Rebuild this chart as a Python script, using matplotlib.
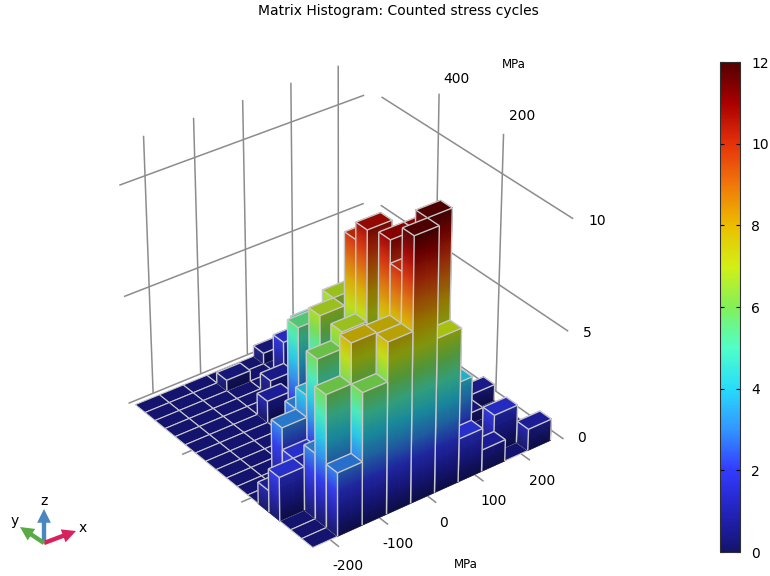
import numpy as np, matplotlib
matplotlib.use('Agg')
import matplotlib.pyplot as plt
from mpl_toolkits.mplot3d.art3d import Poly3DCollection, Line3DCollection
from matplotlib.colors import LinearSegmentedColormap, Normalize
from matplotlib.cm import ScalarMappable
from matplotlib.patches import FancyArrowPatch

x_edges = [-235+50*i for i in range(11)]
y_edges = [600*j/17 for j in range(18)]
x_ticks = [-200,-100,0,100,200]
y_ticks = [200,400]
z_ticks = [0,5,10]
bar_col = [1,2,3,4,5,6,7,9, 1,2,3,4,5,6,8, 1,4,5, 0,7,8, 1,2,3,4, 0,1,2,4,9, 2,3,8, 4,3,3,4,5,4,3,5]
bar_row = [0,0,0,0,0,0,0,0, 1,1,1,1,1,1,1, 2,2,2, 3,4,4, 4,4,4,4, 4,5,5,5,5, 6,6,6, 7,8,11,10,14,13,15,16]
bar_val = [2.9,6,7.75,11.85,7,2,1,1, 6,7.8,7.75,10,11.85,4,1.75, 3,11,11, 2,.5,.5, 2,6,6.75,10.75, 1,3,4,10,.75, 3,6.75,.5, 6.75,5.5,1,4.5,1.75,.75,.5,.5]
colors=[(0,(20,20,110)),(1,(35,35,190)),(2,(50,60,255)),(3,(50,150,255)),(4,(40,220,250)),(5,(80,255,200)),(6,(130,240,90)),(7,(210,240,20)),(8,(235,190,0)),(9,(240,120,10)),(10,(230,50,10)),(11,(170,0,0)),(12,(85,0,0))]
cmap=LinearSegmentedColormap.from_list('c',[(v/12,tuple(c/255 for c in col)) for v,col in colors],N=256)
EDGE='#c8c8c8'; WALL='#8c8c8c'

fig=plt.figure(figsize=(7.7,5.76),dpi=100)
XL=(-250,285);YL=(-12,612);ZL=(0,12)
left,bot,W=67.1,8.2,536.1
ax=fig.add_axes([left/770,bot/576,W/770,W/576],projection='3d',computed_zorder=False)
ax.set_xlim(*XL);ax.set_ylim(*YL);ax.set_zlim(*ZL)
ax.view_init(elev=32.402,azim=-127.03);ax.set_proj_type('persp',focal_length=1.136);ax.set_box_aspect((1.026,1.019,1),zoom=1)
ax.set_axis_off();ax.patch.set_alpha(0)

wall=[]
for v in x_ticks: wall.append([(v+9,YL[1],0),(v+9,YL[1],11.75)])
for v in y_ticks: wall.append([(XL[1],v,0),(XL[1],v,11.75)])
for z in z_ticks:
    wall.append([(XL[0]+8,YL[1],z),(XL[1]-20,YL[1],z)])
    wall.append([(XL[1],585,z),(XL[1],YL[0],z)])
l=Line3DCollection(wall,colors=WALL,linewidths=1.1);l.set_zorder(0);ax.add_collection3d(l,autolim=False)
tick=[[(v,0,0),(v,-28,0)] for v in x_ticks]+[[(x_edges[0],v,0),(x_edges[0]-20,v,0)] for v in y_ticks]
l=Line3DCollection(tick,colors=WALL,linewidths=1.1);l.set_zorder(0);ax.add_collection3d(l,autolim=False)

fp=[[(x_edges[i],y_edges[j],0),(x_edges[i+1],y_edges[j],0),(x_edges[i+1],y_edges[j+1],0),(x_edges[i],y_edges[j+1],0)] for i in range(10) for j in range(17)]
c=Poly3DCollection(fp,facecolor=cmap(0),edgecolor=EDGE,linewidth=.8);c.set_zorder(1);ax.add_collection3d(c,autolim=False)
order=sorted(zip(bar_col,bar_row,bar_val),key=lambda b:-(b[0]+b[1]))
for n,(i,j,h) in enumerate(order):
    x0,x1,y0,y1=x_edges[i],x_edges[i+1],y_edges[j],y_edges[j+1]
    polys=[];fc=[]
    zs=np.linspace(0,h,max(2,int(round(h*10))+1))
    for a,b in zip(zs[:-1],zs[1:]):
        col=np.array(cmap((a+b)/2/12))
        polys.append([(x0,y0,a),(x1,y0,a),(x1,y0,b),(x0,y0,b)]);fc.append(np.r_[col[:3]*.62,1])
        polys.append([(x0,y0,a),(x0,y1,a),(x0,y1,b),(x0,y0,b)]);fc.append(np.r_[col[:3]*.88+.04,1])
    polys.append([(x0,y0,h),(x1,y0,h),(x1,y1,h),(x0,y1,h)]);fc.append(np.r_[np.array(cmap(h/12))[:3]*.8,1])
    c=Poly3DCollection(polys,facecolor=fc,edgecolor=fc,linewidth=.5);c.set_zorder(10+2*n);ax.add_collection3d(c,autolim=False)
    segs=[[(x0,y0,0),(x0,y0,h)],[(x1,y0,0),(x1,y0,h)],[(x0,y1,0),(x0,y1,h)],[(x0,y0,h),(x1,y0,h)],[(x1,y0,h),(x1,y1,h)],[(x1,y1,h),(x0,y1,h)],[(x0,y1,h),(x0,y0,h)]]
    l=Line3DCollection(segs,colors=EDGE,linewidths=1);l.set_zorder(11+2*n);ax.add_collection3d(l,autolim=False)

def T(px,py,s,size=10,**k):
    fig.text(px/770,1-py/576,s,fontsize=size,ha='center',va='center',**k)
T(398,11,'Matrix Histogram: Counted stress cycles',10)
for p,s in [((348,566),'-200'),((398,544),'-100'),((443,523),'0'),((494,501),'100'),((542,481),'200'),
            ((456,79),'400'),((522,116),'200'),((582,438),'0'),((587,333),'5'),((597,221),'10')]:
    T(p[0],p[1],s,10)
T(514,64,'MPa',8.5);T(466,564,'MPa',8.5)

cax=fig.add_axes([720/770,1-552/576,20/770,490/576])
cb=fig.colorbar(ScalarMappable(Normalize(0,12),cmap),cax=cax,ticks=[0,2,4,6,8,10,12])
cax.tick_params(direction='in',left=True,right=True,length=3,width=.8,labelsize=10,pad=8)
cb.outline.set_linewidth(.8);cb.outline.set_edgecolor('#303030')

o=(44,543)
for tip,col,lab,lp in [((44,509),'#4a86c0','z',(44,501)),((76,531),'#d8225c','x',(83,528)),((20,527),'#5aaa46','y',(15,521))]:
    a=FancyArrowPatch((o[0]/770,1-o[1]/576),(tip[0]/770,1-tip[1]/576),transform=fig.transFigure,arrowstyle='simple,head_length=1.1,head_width=1.1,tail_width=.35',mutation_scale=9,color=col,lw=0,shrinkA=0,shrinkB=0)
    fig.add_artist(a)
    T(lp[0],lp[1],lab,10)
fig.savefig('out.png',dpi=100)
